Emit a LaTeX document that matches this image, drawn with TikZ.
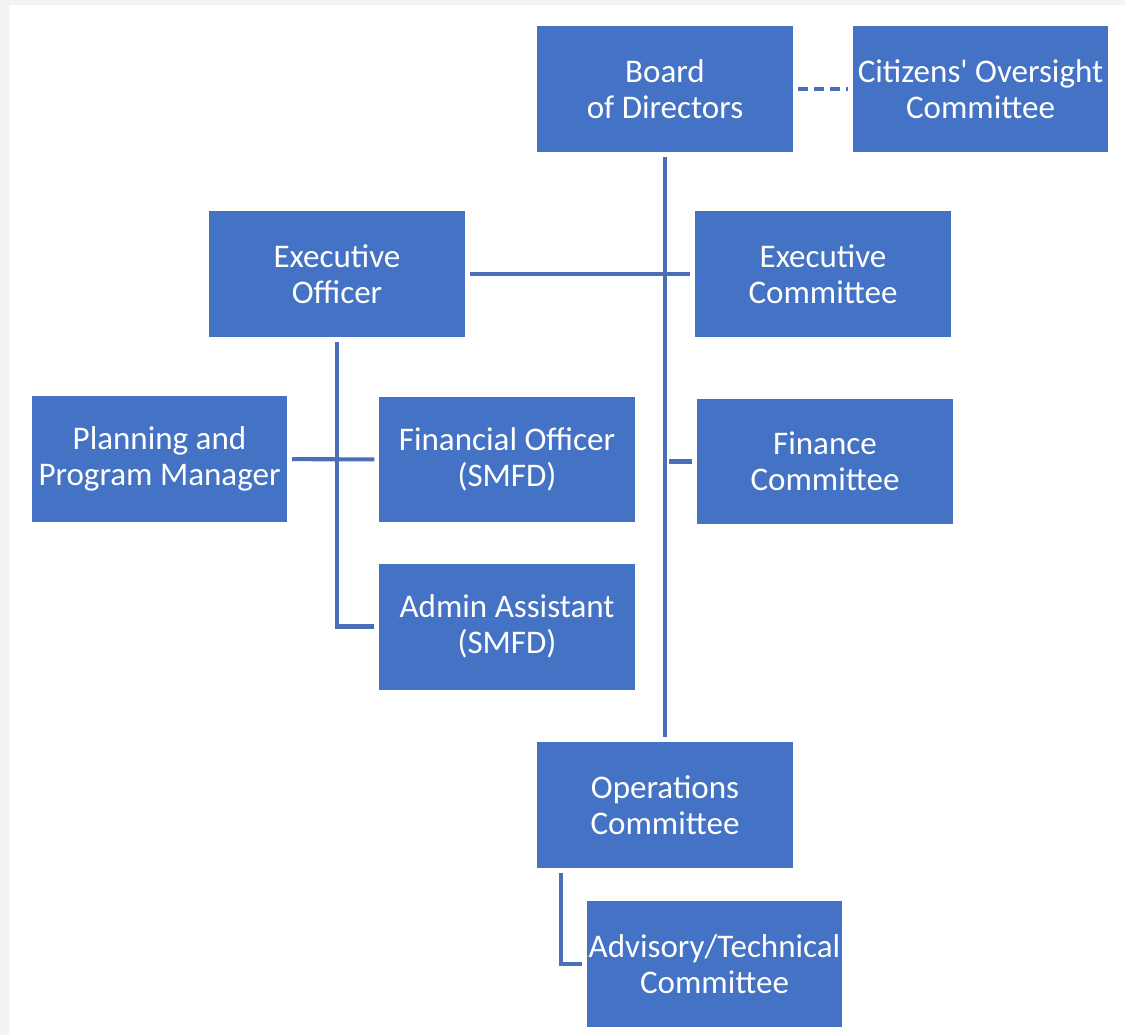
\documentclass[tikz,border=0pt]{standalone}
\usepackage{fontspec}
\setmainfont{Carlito}
\definecolor{boxblue}{HTML}{4472C4}
\definecolor{lineblue}{HTML}{4A6FB8}
\definecolor{pagegray}{HTML}{F3F3F3}

\tikzset{
	box/.style={fill=boxblue, text=white, minimum width=5.12cm, minimum height=2.52cm,
		inner sep=0pt, align=center, font=\fontsize{18.8}{20.6}\selectfont},
	link/.style={draw=lineblue, line width=2.3pt, shorten <=2.5pt, shorten >=2.5pt}
}

\begin{document}
\begin{tikzpicture}[x=0.02cm, y=-0.02cm]
		\useasboundingbox (0, 0) rectangle (1125, 1035);
		\fill[pagegray] (0, 0) rectangle (1125, 1035);
		\fill[white] (9, 5) rectangle (1125, 1035);
		
		\node[box] (board) at (665, 89) {Board\\of Directors};
		\node[box] (citizens) at (980.5, 89) {Citizens\textquotesingle\ Oversight\\Committee};
		\node[box] (execofficer) at (337, 274) {Executive\\Officer};
		\node[box] (execcomm) at (823, 274) {Executive\\Committee};
		\node[box] (planning) at (159.5, 459) {Planning and\\Program Manager};
		\node[box] (finofficer) at (507, 459.5) {Financial Officer\\(SMFD)};
		\node[box] (fincomm) at (825, 461.5) {Finance\\Committee};
		\node[box] (admin) at (507, 626.5) {Admin Assistant\\(SMFD)};
		\node[box] (ops) at (665, 805) {Operations\\Committee};
		\node[box] (advisory) at (714.5, 964) {Advisory/Technical\\Committee};
		
		\draw[link] (board) -- (ops);
		\draw[link] (execofficer) -- (execcomm);
		\draw[link] (fincomm.west) -- (fincomm.west -| board.south);
		\draw[link] (execofficer) |- (admin.west);
		\draw[link] (planning) -- (finofficer);
		\draw[link] ([xshift=0.48cm]ops.south west) |- (advisory.west);
		\draw[link, dash pattern=on 5.8pt off 3.4pt] (board) -- (citizens);
\end{tikzpicture}
\end{document}
